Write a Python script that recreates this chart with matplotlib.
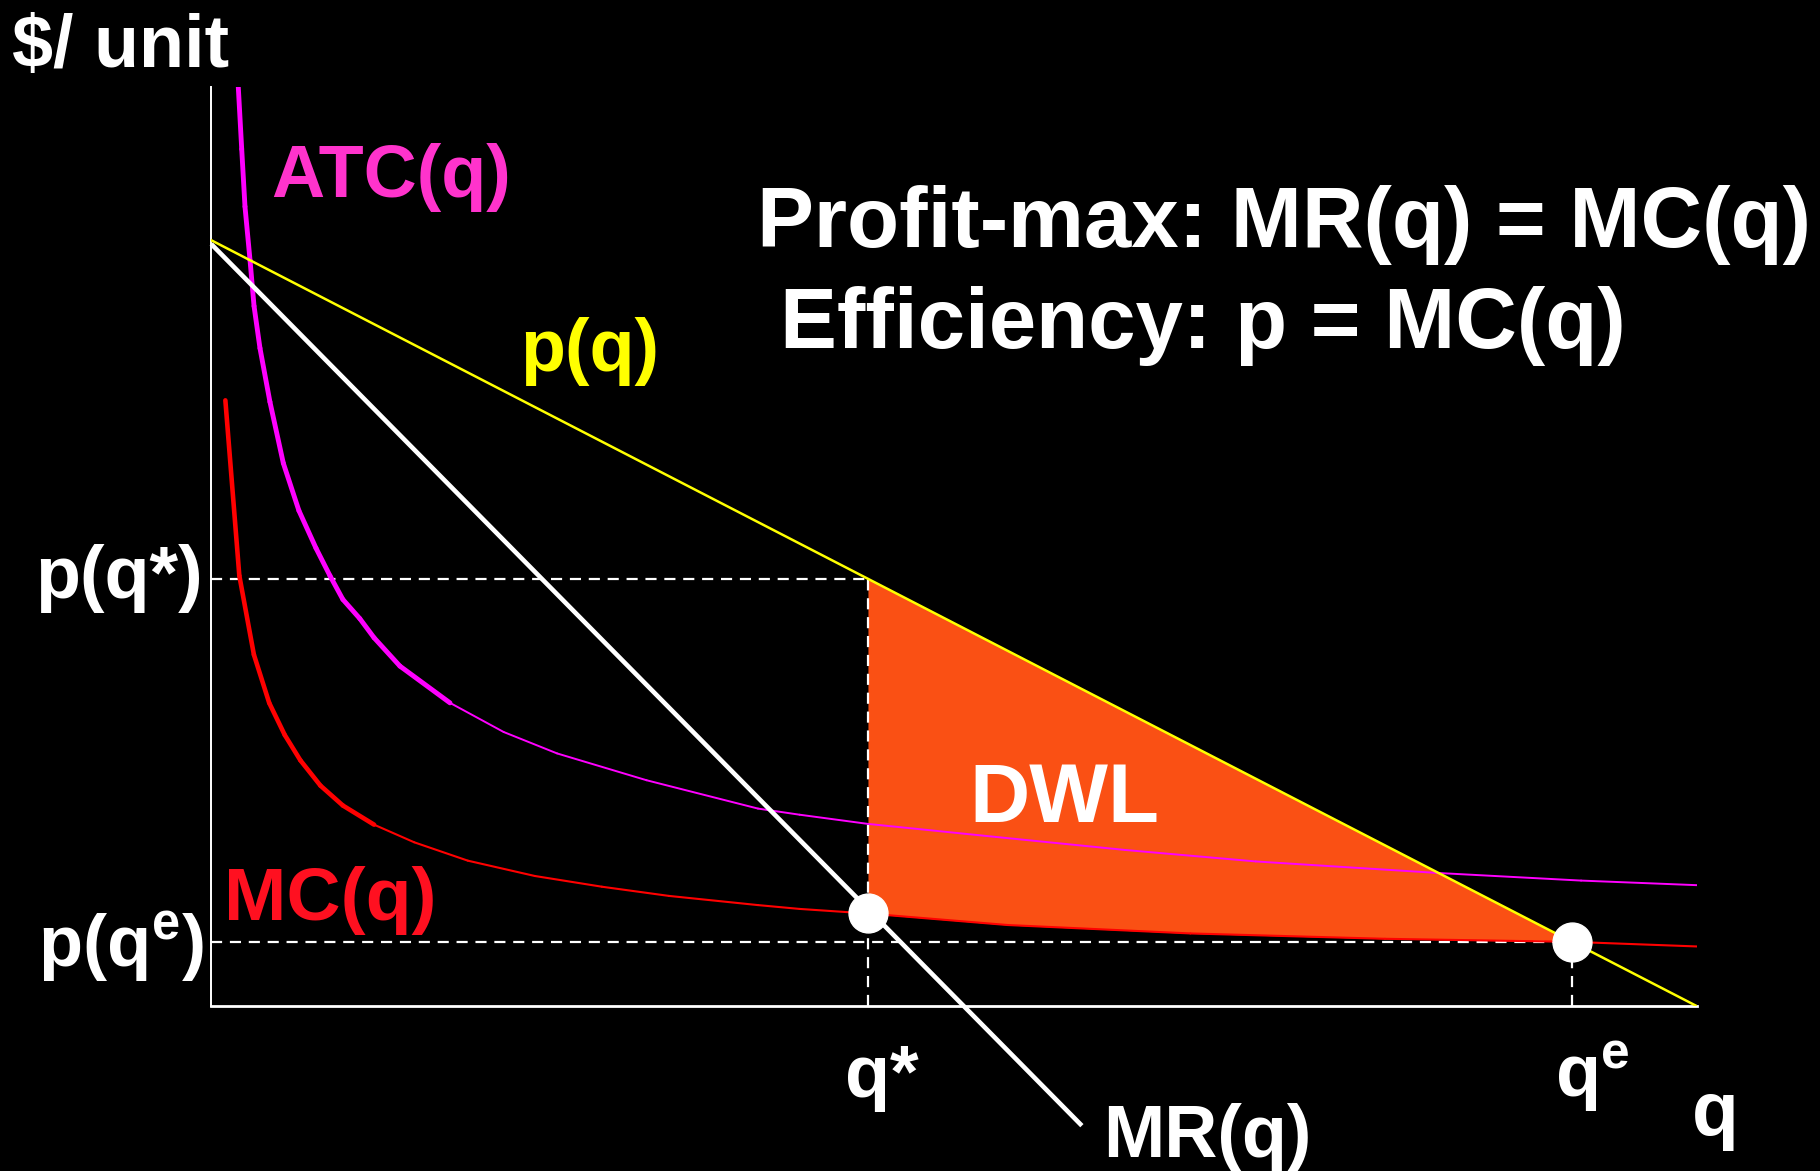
import numpy as np
import matplotlib
matplotlib.use("Agg")
import matplotlib.pyplot as plt
from matplotlib.collections import LineCollection

# ---------------- data ----------------
q_demand = [0, 100]
p_demand = [100, 0]

q_mr = [0, 58.6]
p_mr = [99.5, -15.6]

q_mc = [0.95, 1.89, 2.87, 3.9, 4.95, 6.0, 7.35, 8.86, 10.96, 13.66, 17.27, 21.78,
        26.29, 30.8, 36.8, 39.6, 44.2, 53.6, 65.9, 79.0, 91.6, 100.0]
p_mc = [79.1, 56.2, 45.9, 39.6, 35.4, 32.1, 28.8, 26.2, 23.7, 21.4, 19.0, 17.0,
        15.6, 14.4, 13.2, 12.7, 12.1, 10.6, 9.5, 8.8, 8.4, 7.8]

q_atc = [1.82, 2.05, 2.27, 2.61, 2.88, 3.28, 3.95, 4.85, 5.9, 7.05, 7.99, 8.86, 10.0,
         10.96, 12.7, 16.07, 19.68, 23.28, 29.3, 36.8, 39.6, 44.2, 52.8, 61.5, 70.3,
         82.5, 92.2, 100.0]
p_atc = [120.0, 111.9, 104.4, 97.4, 91.4, 85.9, 78.9, 70.9, 64.7, 59.8, 56.2, 53.1, 50.6,
         48.1, 44.4, 39.6, 35.8, 33.0, 29.5, 25.8, 25.0, 23.8, 22.1, 20.4, 18.9,
         17.4, 16.4, 15.8]

q_star = 44.2
q_e = 91.6
p_q_star = 100 - q_star
p_q_e = 100 - q_e
mc_q_star = 12.2

font = "Liberation Sans"

W, H = 1568.0, 1009.0  # reference pixel frame used for text placement

fig = plt.figure(figsize=(18.2, 11.71), dpi=100, facecolor="black")
x0, x1 = 182 / W, 1462 / W
y0, y1 = 1 - 867 / H, 1 - 75 / H
ax = fig.add_axes([x0, y0, x1 - x0, y1 - y0])
ax.set_facecolor("black")
ax.set_xlim(0, 100)
ax.set_ylim(0, 120)
ax.set_xticks([])
ax.set_yticks([])
for s in ["top", "right"]:
    ax.spines[s].set_visible(False)
ax.spines["left"].set_color("white")
ax.spines["left"].set_linewidth(1.4)
ax.spines["bottom"].set_color("white")
ax.spines["bottom"].set_linewidth(2.0)

# DWL fill between MC and demand from q* to qe
qf = np.array([q for q in q_mc if q_star <= q <= q_e])
pf = np.array([p for q, p in zip(q_mc, p_mc) if q_star <= q <= q_e])
ax.fill_between(qf, pf, 100 - qf, color="#FA5014", lw=0, zorder=2)

# dashed guides
dash = dict(color="white", lw=1.6, ls=(0, (5, 3.5)), zorder=3)
ax.plot([0, q_star], [p_q_star, p_q_star], **dash)
ax.plot([q_star, q_star], [0, p_q_star], **dash)
ax.plot([0, q_e], [p_q_e, p_q_e], **dash)
ax.plot([q_e, q_e], [0, p_q_e], **dash)

# curves: thick near the axis, thin further out
def taper(qs, ps, color, w_start, w_end, q_switch):
    pts = np.column_stack([qs, ps])
    segs = np.stack([pts[:-1], pts[1:]], axis=1)
    widths = [w_start if qs[i] < q_switch else w_end for i in range(len(segs))]
    lc = LineCollection(segs, colors=color, linewidths=widths, capstyle="round",
                        joinstyle="round", zorder=4)
    ax.add_collection(lc)

taper(q_mc, p_mc, "#FF0000", 3.3, 1.5, 9.5)
taper(q_atc, p_atc, "#FF00FF", 3.5, 1.4, 13.0)

ax.plot(q_demand, p_demand, color="#FFFF00", lw=1.8, zorder=5)
ax.plot(q_mr, p_mr, color="white", lw=3.3, zorder=5, clip_on=False, solid_capstyle="butt")

# dots
ax.plot([q_star], [mc_q_star], "o", ms=28, color="white", mec="white", zorder=6, clip_on=False)
ax.plot([q_e], [p_q_e], "o", ms=28, color="white", mec="white", zorder=6, clip_on=False)

# ---------------- text ----------------
def T(x, y, s, color="white", size=52, ha="left", va="baseline"):
    fig.text(x / W, 1 - y / H, s, color=color, fontsize=size, fontweight="bold",
             family=font, ha=ha, va=va)

T(10, 58, "$/ unit", size=53)
T(234, 170, "ATC(q)", color="#FF33CC", size=53)
T(448, 320, "p(q)", color="#FFFF00", size=53)
T(652, 213, "Profit-max: MR(q) = MC(q)", size=61.4)
T(672, 300, "Efficiency: p = MC(q)", size=61.4)
T(30, 515, "p(q*)", size=53)
T(33, 833, r"p(q$^{\mathregular{e}}$)", size=52)
T(193, 793, "MC(q)", color="#FF1020", size=54)
T(835, 708, "DWL", size=60)
T(728, 945, "q*", size=53)
T(1340, 945, r"q$^{\mathregular{e}}$", size=53)
T(1458, 978, "q", size=55)
T(950, 997, "MR(q)", size=53)

fig.savefig("out.png", dpi=100, facecolor="black")
